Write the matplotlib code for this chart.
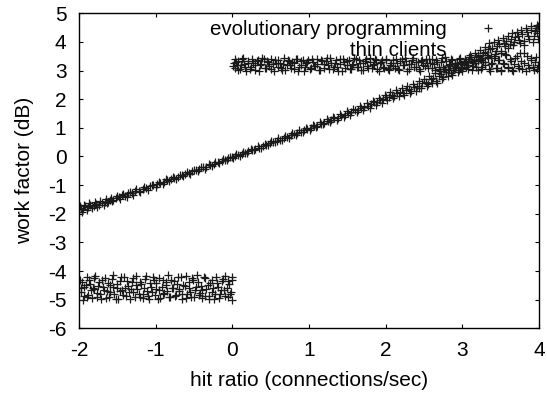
import numpy as np
import matplotlib
matplotlib.use("Agg")
import matplotlib.pyplot as plt

plt.rcParams['font.family'] = ['Liberation Sans', 'DejaVu Sans']
plt.rcParams['axes.unicode_minus'] = False

# evolutionary programming: the rising curve (two passes)
evo_x = [-2.00, -1.98, -1.95, -1.92, -1.88, -1.85, -1.81, -1.78, -1.74, -1.70,
         -1.66, -1.63, -1.60, -1.57, -1.52, -1.48, -1.44, -1.40, -1.36, -1.31,
         -1.27, -1.22, -1.17, -1.12, -1.07, -1.03,
         -0.98, -0.94, -0.89, -0.85, -0.80, -0.76, -0.71, -0.66, -0.62, -0.57,
         -0.52, -0.48, -0.43, -0.38, -0.34, -0.29, -0.24, -0.19, -0.14, -0.09,
         -0.05, -0.01,
         0.03, 0.08, 0.12, 0.17, 0.21, 0.26, 0.30, 0.35, 0.40, 0.44,
         0.49, 0.53, 0.58, 0.62, 0.67, 0.71, 0.76, 0.80, 0.85, 0.89,
         0.94, 0.98,
         1.03, 1.07, 1.11, 1.16, 1.20, 1.25, 1.29, 1.33, 1.38, 1.42,
         1.47, 1.51, 1.55, 1.60, 1.64, 1.68, 1.72, 1.77, 1.81, 1.85,
         1.89, 1.93, 1.97, 2.00,
         2.04, 2.08, 2.11, 2.15, 2.19, 2.22, 2.26, 2.30, 2.33, 2.37,
         2.41, 2.44, 2.48, 2.52, 2.55, 2.59, 2.62, 2.65, 2.69, 2.72,
         2.75, 2.79, 2.82, 2.85, 2.89, 2.92, 2.95, 2.98,
         3.02, 3.05, 3.08, 3.11, 3.14, 3.18, 3.21, 3.24, 3.27, 3.30,
         3.33, 3.36, 3.39, 3.42, 3.45, 3.48, 3.51, 3.54, 3.57, 3.60,
         3.63, 3.66, 3.69, 3.72, 3.75, 3.78, 3.81, 3.84, 3.87, 3.90,
         3.93, 3.96, 3.98, 3.99]
evo_y = [-1.93, -1.80, -1.85, -1.74, -1.78, -1.70, -1.72, -1.66, -1.70, -1.62,
         -1.58, -1.64, -1.52, -1.57, -1.45, -1.42, -1.35, -1.38, -1.28, -1.27,
         -1.20, -1.19, -1.12, -1.10, -1.03, -1.01,
         -0.95, -0.93, -0.88, -0.82, -0.80, -0.74, -0.70, -0.66, -0.60, -0.57,
         -0.52, -0.47, -0.44, -0.38, -0.35, -0.30, -0.25, -0.21, -0.15, -0.11,
         -0.06, -0.03,
         0.00, 0.05, 0.09, 0.13, 0.18, 0.23, 0.27, 0.31, 0.37, 0.41,
         0.46, 0.50, 0.55, 0.59, 0.64, 0.68, 0.74, 0.77, 0.83, 0.86,
         0.92, 0.96,
         1.01, 1.05, 1.08, 1.15, 1.18, 1.23, 1.26, 1.33, 1.36, 1.42,
         1.46, 1.52, 1.54, 1.61, 1.63, 1.70, 1.73, 1.78, 1.82, 1.90,
         1.91, 1.98, 2.01, 2.06,
         2.08, 2.15, 2.12, 2.22, 2.25, 2.20, 2.32, 2.36, 2.30, 2.44,
         2.47, 2.40, 2.56, 2.60, 2.52, 2.70, 2.75, 2.64, 2.82, 2.88,
         2.78, 2.95, 3.02, 2.90, 3.08, 3.14, 3.02, 3.22,
         3.26, 3.12, 3.34, 3.40, 3.25, 3.48, 3.55, 3.38, 3.60, 3.66,
         3.47, 3.74, 3.80, 3.58, 3.86, 3.92, 3.68, 3.98, 4.05, 3.78,
         4.10, 3.88, 4.16, 4.22, 3.95, 4.28, 4.05, 4.34, 4.12, 4.40,
         4.20, 4.48, 4.30, 4.55]
evo_x2 = [-1.99, -1.96, -1.94, -1.90, -1.87, -1.83, -1.79, -1.76, -1.72, -1.68,
          -1.65, -1.62, -1.58, -1.55, -1.50, -1.46, -1.42, -1.38, -1.34, -1.29,
          -1.25, -1.20, -1.15, -1.10, -1.05, -1.00, -0.96, -0.91, -0.87, -0.82,
          -0.78, -0.73, -0.68, -0.64, -0.59, -0.55, -0.50, -0.45, -0.41, -0.36,
          -0.31, -0.27, -0.22, -0.17, -0.12, -0.07, -0.03, 0.01, 0.05, 0.10,
          0.14, 0.19, 0.24, 0.28, 0.33, 0.37, 0.42, 0.47, 0.51, 0.56,
          0.60, 0.65, 0.69, 0.74, 0.78, 0.83, 0.87, 0.92, 0.96, 1.01,
          1.05, 1.09, 1.14, 1.18, 1.23, 1.27, 1.31, 1.36, 1.40, 1.45,
          1.49, 1.53, 1.58, 1.62, 1.66, 1.70, 1.75, 1.79, 1.83, 1.87,
          1.91, 1.95, 1.99, 2.02, 2.06, 2.10, 2.13, 2.17, 2.21, 2.24,
          2.28, 2.32, 2.35, 2.39, 2.43, 2.46, 2.50, 2.54, 2.57, 2.61,
          2.64, 2.67, 2.71, 2.74, 2.77, 2.81, 2.84, 2.87, 2.91, 2.94,
          2.97, 3.00, 3.04, 3.07, 3.10, 3.13, 3.16, 3.20, 3.23, 3.26,
          3.29, 3.32, 3.35, 3.38, 3.41, 3.44, 3.47, 3.50, 3.53, 3.56,
          3.59, 3.62, 3.65, 3.68, 3.71, 3.74, 3.77, 3.80, 3.83, 3.86,
          3.89, 3.92, 3.95, 3.97, 3.99]
evo_y2 = [-1.72, -1.95, -1.68, -1.88, -1.62, -1.80, -1.58, -1.76, -1.55, -1.70,
          -1.48, -1.60, -1.44, -1.52, -1.38, -1.48, -1.30, -1.42, -1.24, -1.33,
          -1.15, -1.24, -1.06, -1.16, -0.98, -1.06, -0.88, -0.97, -0.80, -0.87,
          -0.72, -0.79, -0.63, -0.69, -0.55, -0.61, -0.46, -0.52, -0.38, -0.42,
          -0.28, -0.33, -0.19, -0.24, -0.10, -0.14, -0.01, -0.06, 0.08, 0.03,
          0.14, 0.12, 0.25, 0.21, 0.35, 0.31, 0.44, 0.40, 0.54, 0.49,
          0.63, 0.58, 0.72, 0.66, 0.82, 0.76, 0.91, 0.85, 1.00, 0.94,
          1.10, 1.03, 1.20, 1.12, 1.30, 1.20, 1.39, 1.29, 1.48, 1.38,
          1.58, 1.45, 1.67, 1.54, 1.76, 1.62, 1.86, 1.70, 1.95, 1.80,
          2.05, 1.88, 2.15, 1.96, 2.26, 2.04, 2.32, 2.10, 2.40, 2.16,
          2.46, 2.22, 2.54, 2.30, 2.62, 2.38, 2.70, 2.46, 2.80, 2.55,
          2.90, 2.58, 2.98, 2.70, 3.05, 2.80, 3.15, 2.85, 3.22, 2.95,
          3.30, 3.05, 3.42, 3.20, 3.55, 3.30, 3.62, 3.35, 3.72, 3.45,
          3.82, 3.55, 3.95, 3.50, 4.00, 3.70, 4.08, 3.60, 4.15, 3.85,
          4.22, 3.92, 4.30, 4.00, 4.35, 4.08, 4.42, 3.90, 4.50, 4.22,
          4.55, 4.00, 4.38, 4.58, 4.10]

# thin clients: flat band for x > 0 ...
band_x = [0.02, 0.03, 0.04, 0.06, 0.08, 0.10, 0.12, 0.15, 0.18, 0.21,
          0.24, 0.27, 0.30, 0.33, 0.36, 0.39, 0.42, 0.45, 0.48, 0.51,
          0.54, 0.57, 0.60, 0.63, 0.66, 0.69, 0.72, 0.75, 0.78, 0.81,
          0.84, 0.87, 0.90, 0.93, 0.96, 0.99, 1.02, 1.05, 1.08, 1.11,
          1.14, 1.17, 1.20, 1.23, 1.26, 1.29, 1.32, 1.35, 1.38, 1.41,
          1.44, 1.47, 1.50, 1.53, 1.56, 1.59, 1.62, 1.65, 1.68, 1.71,
          1.74, 1.77, 1.80, 1.83, 1.86, 1.89, 1.92, 1.95, 1.98, 2.01,
          2.04, 2.07, 2.10, 2.13, 2.16, 2.19, 2.22, 2.25, 2.28, 2.31,
          2.34, 2.37, 2.40, 2.43, 2.46, 2.49, 2.52, 2.55, 2.58, 2.61,
          2.64, 2.67, 2.70, 2.73, 2.76, 2.79, 2.82, 2.85, 2.88, 2.91,
          2.94, 2.97, 3.00, 3.03, 3.06, 3.09, 3.12, 3.15, 3.18, 3.21,
          3.24, 3.27, 3.30, 3.33, 3.36, 3.39, 3.42, 3.45, 3.48, 3.51,
          3.54, 3.57, 3.60, 3.63, 3.66, 3.69, 3.72, 3.75, 3.78, 3.81,
          3.84, 3.87, 3.90, 3.93, 3.96, 3.99]
band_y = [3.25, 3.10, 3.40, 3.18, 3.32, 3.05, 3.42, 3.22, 3.00, 3.35,
          3.12, 3.28, 3.02, 3.38, 3.20, 3.45, 3.08, 3.33, 3.15, 3.40,
          2.98, 3.26, 3.36, 3.10, 3.22, 3.03, 3.38, 3.18, 3.30, 3.05,
          3.42, 3.14, 3.35, 3.00, 3.25, 3.38, 3.08, 3.30, 3.16, 3.40,
          3.02, 3.34, 3.22, 3.44, 3.06, 3.28, 3.12, 3.37, 3.00, 3.24,
          3.40, 3.10, 3.32, 3.04, 3.20, 3.45, 3.14, 3.36, 3.02, 3.27,
          3.40, 3.08, 3.30, 3.18, 3.42, 3.04, 3.25, 3.36, 3.10, 3.38,
          3.02, 3.28, 3.16, 3.42, 3.06, 3.33, 3.20, 3.44, 3.00, 3.24,
          3.38, 3.12, 3.30, 3.04, 3.35, 3.18, 3.42, 3.08, 3.26, 3.40,
          3.02, 3.30, 3.14, 3.45, 3.06, 3.34, 3.20, 3.40, 3.02, 3.28,
          3.12, 3.44, 3.08, 3.32, 3.20, 3.46, 3.02, 3.36, 3.14, 3.50,
          3.05, 3.30, 3.18, 3.44, 3.00, 3.26, 3.52, 3.10, 3.38, 3.02,
          3.22, 3.56, 3.08, 3.32, 3.00, 3.45, 3.15, 3.60, 3.04, 3.28,
          3.50, 3.10, 3.38, 3.02, 3.46, 3.20]
band_x2 = [0.01, 0.05, 0.07, 0.11, 0.14, 0.17, 0.20, 0.23, 0.26, 0.29,
           0.32, 0.35, 0.38, 0.41, 0.44, 0.47, 0.50, 0.53, 0.56, 0.59,
           0.62, 0.65, 0.68, 0.71, 0.74, 0.77, 0.80, 0.83, 0.86, 0.89,
           0.92, 0.95, 0.98, 1.01, 1.04, 1.07, 1.10, 1.13, 1.16, 1.19,
           1.22, 1.25, 1.28, 1.31, 1.34, 1.37, 1.40, 1.43, 1.46, 1.49,
           1.52, 1.55, 1.58, 1.61, 1.64, 1.67, 1.70, 1.73, 1.76, 1.79,
           1.82, 1.85, 1.88, 1.91, 1.94, 1.97, 2.00, 2.03, 2.06, 2.09,
           2.12, 2.15, 2.18, 2.21, 2.24, 2.27, 2.30, 2.33, 2.36, 2.39,
           2.42, 2.45, 2.48, 2.51, 2.54, 2.57, 2.60, 2.63, 2.66, 2.69,
           2.72, 2.75, 2.78, 2.81, 2.84, 2.87, 2.90, 2.93, 2.96, 2.99,
           3.02, 3.05, 3.08, 3.11, 3.14, 3.17, 3.20, 3.23, 3.26, 3.29,
           3.32, 3.35, 3.38, 3.41, 3.44, 3.47, 3.50, 3.53, 3.56, 3.59,
           3.62, 3.65, 3.68, 3.71, 3.74, 3.77, 3.80, 3.83, 3.86, 3.89,
           3.92, 3.95, 3.98]
band_y2 = [3.15, 3.30, 3.02, 3.20, 3.44, 3.12, 3.28, 3.06, 3.40, 3.18,
           3.34, 3.00, 3.24, 3.42, 3.10, 3.30, 3.04, 3.22, 3.38, 3.14,
           3.28, 3.02, 3.44, 3.18, 3.34, 3.08, 3.26, 3.40, 3.00, 3.20,
           3.36, 3.12, 3.30, 3.05, 3.42, 3.16, 3.24, 3.02, 3.38, 3.10,
           3.32, 3.20, 3.44, 3.04, 3.26, 3.14, 3.40, 3.00, 3.30, 3.18,
           3.36, 3.06, 3.22, 3.42, 3.12, 3.28, 3.02, 3.34, 3.16, 3.44,
           3.08, 3.24, 3.38, 3.00, 3.30, 3.14, 3.42, 3.06, 3.20, 3.36,
           3.10, 3.28, 3.02, 3.40, 3.18, 3.32, 3.04, 3.24, 3.44, 3.12,
           3.30, 3.00, 3.36, 3.16, 3.26, 3.42, 3.08, 3.22, 3.38, 3.04,
           3.30, 3.14, 3.46, 3.02, 3.24, 3.36, 3.10, 3.28, 3.42, 3.00,
           3.20, 3.34, 3.06, 3.48, 3.16, 3.26, 3.02, 3.40, 3.12, 3.30,
           3.54, 3.04, 3.22, 3.44, 3.10, 3.36, 3.00, 3.28, 3.58, 3.14,
           3.40, 3.02, 3.24, 3.50, 3.08, 3.34, 3.62, 3.00, 3.20, 3.44,
           3.12, 3.30, 3.04]

# ... and low cluster for x < 0
low_x = [-1.99, -1.97, -1.95, -1.93, -1.90, -1.88, -1.86, -1.83, -1.81, -1.79,
         -1.76, -1.74, -1.71, -1.69, -1.66, -1.64, -1.61, -1.59, -1.56, -1.54,
         -1.51, -1.49, -1.46, -1.44, -1.41, -1.39, -1.36, -1.34, -1.31, -1.29,
         -1.26, -1.24, -1.21, -1.19, -1.16, -1.14, -1.11, -1.09, -1.06, -1.04,
         -1.01, -0.99, -0.96, -0.94, -0.91, -0.89, -0.86, -0.84, -0.81, -0.79,
         -0.76, -0.74, -0.71, -0.69, -0.66, -0.64, -0.61, -0.59, -0.56, -0.54,
         -0.51, -0.49, -0.46, -0.44, -0.41, -0.39, -0.36, -0.34, -0.31, -0.29,
         -0.26, -0.24, -0.21, -0.19, -0.16, -0.14, -0.11, -0.09, -0.06, -0.04,
         -0.02, -0.01, 0.00, -0.01,
         -1.98, -1.96, -1.94, -1.91, -1.89, -1.87, -1.84, -1.82, -1.80, -1.77,
         -1.75, -1.72, -1.70, -1.67, -1.65, -1.62, -1.60, -1.57, -1.55, -1.52,
         -1.50, -1.47, -1.45, -1.42, -1.40, -1.37, -1.35, -1.32, -1.30, -1.27,
         -1.25, -1.22, -1.20, -1.17, -1.15, -1.12, -1.10, -1.07, -1.05, -1.02,
         -1.00, -0.97, -0.95, -0.92, -0.90, -0.87, -0.85, -0.82, -0.80, -0.77,
         -0.75, -0.72, -0.70, -0.67, -0.65, -0.62, -0.60, -0.57, -0.55, -0.52,
         -0.50, -0.47, -0.45, -0.42, -0.40, -0.37, -0.35, -0.32, -0.30, -0.27,
         -0.25, -0.22, -0.20, -0.17, -0.15, -0.12, -0.10, -0.07, -0.05, -0.03]
low_y = [-4.30, -4.72, -5.00, -4.55, -4.20, -4.85, -4.45, -4.95, -4.62, -4.18,
         -4.78, -4.40, -4.98, -4.55, -4.25, -4.70, -4.90, -4.48, -4.15, -4.80,
         -4.60, -4.97, -4.35, -4.68, -4.22, -4.88, -4.52, -4.98, -4.40, -4.75,
         -4.18, -4.62, -4.92, -4.45, -4.82, -4.28, -4.70, -4.99, -4.55, -4.20,
         -4.85, -4.42, -4.65, -4.95, -4.30, -4.78, -4.50, -4.15, -4.92, -4.60,
         -4.35, -4.85, -4.22, -4.70, -4.98, -4.48, -4.18, -4.80, -4.58, -4.90,
         -4.32, -4.68, -4.15, -4.85, -4.52, -4.95, -4.25, -4.62, -4.88, -4.42,
         -4.72, -4.98, -4.20, -4.55, -4.82, -4.35, -4.68, -4.18, -4.90, -4.45,
         -4.75, -4.22, -5.00, -4.30,
         -4.60, -4.38, -4.88, -4.50, -4.92, -4.32, -4.68, -4.58, -4.25, -4.90,
         -4.52, -4.82, -4.30, -4.65, -4.95, -4.42, -4.75, -4.28, -4.55, -4.98,
         -4.45, -4.70, -4.20, -4.85, -4.58, -4.35, -4.75, -4.62, -4.25, -4.90,
         -4.48, -4.80, -4.38, -4.95, -4.60, -4.18, -4.88, -4.42, -4.72, -4.30,
         -4.62, -4.98, -4.25, -4.55, -4.82, -4.40, -4.70, -4.92, -4.30, -4.58,
         -4.88, -4.45, -4.62, -4.20, -4.80, -4.52, -4.95, -4.38, -4.72, -4.25,
         -4.90, -4.55, -4.40, -4.78, -4.65, -4.22, -4.88, -4.50, -4.96, -4.30,
         -4.60, -4.82, -4.42, -4.95, -4.68, -4.28, -4.88, -4.58, -4.35, -4.80]

evo_all_x = evo_x + evo_x2
evo_all_y = evo_y + evo_y2
thin_all_x = band_x + band_x2 + low_x
thin_all_y = band_y + band_y2 + low_y

fig = plt.figure(figsize=(5.47, 3.94), dpi=100)
ax = fig.add_axes([0.1444, 0.1668, 0.841, 0.7994])

ax.plot(evo_all_x, evo_all_y, linestyle='none', marker='+', color='#1a1a1a',
        markersize=5.5, markeredgewidth=0.9, label='evolutionary programming')
ax.plot(thin_all_x, thin_all_y, linestyle='none', marker='+', color='#1a1a1a',
        markersize=5.5, markeredgewidth=0.9, label='thin clients')

ax.set_xlim(-2, 4)
ax.set_ylim(-6, 5)
ax.set_xticks(np.arange(-2, 5, 1))
ax.set_yticks(np.arange(-6, 6, 1))
ax.tick_params(direction='in', length=3, width=0.8, top=True, right=True,
               labelsize=15, pad=9)
for s in ax.spines.values():
    s.set_linewidth(1.0)

ax.set_xlabel('hit ratio (connections/sec)', fontsize=15, labelpad=8)
ax.set_ylabel('work factor (dB)', fontsize=15, labelpad=10)

ax.legend(loc='upper right', bbox_to_anchor=(0.933, 0.978), frameon=False,
          markerfirst=False, fontsize=14.8, handlelength=2, handletextpad=1.0,
          borderpad=0, borderaxespad=0, labelspacing=0.08)

fig.savefig('out.png', dpi=100)
